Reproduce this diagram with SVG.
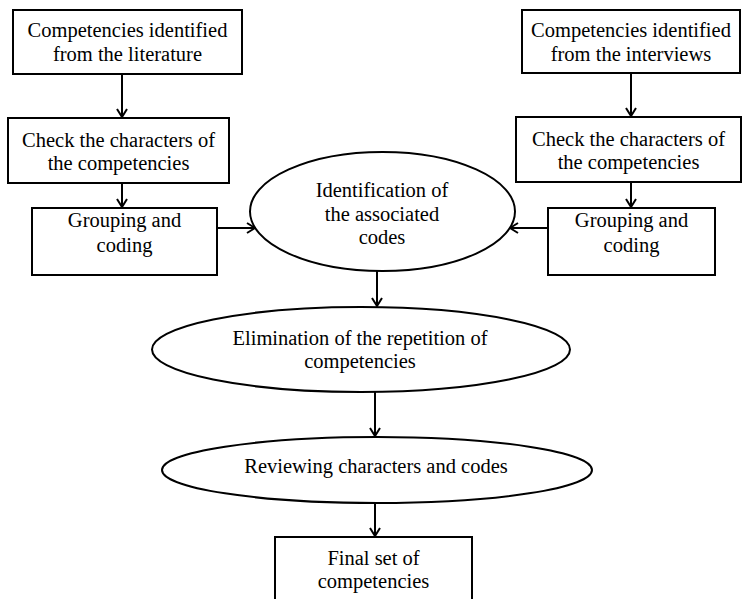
<svg xmlns="http://www.w3.org/2000/svg" width="743" height="599" viewBox="0 0 743 599">
<defs>
<marker id="a" viewBox="0 0 10 12" refX="9" refY="6" markerWidth="10" markerHeight="12" markerUnits="userSpaceOnUse" orient="auto">
<path d="M1,1 L9,6 L1,11" fill="none" stroke="#000" stroke-width="2"/>
</marker>
</defs>
<rect width="743" height="599" fill="#fff"/>
<g font-family="Liberation Serif" font-size="20.5" text-anchor="middle">
<g id="lit">
<rect fill="#fff" stroke="#000" stroke-width="2" x="13" y="10" width="229" height="64"/>
<text x="127.5" y="37">Competencies identified</text>
<text x="127.5" y="61">from the literature</text>
</g>
<g id="check-left">
<rect fill="#fff" stroke="#000" stroke-width="2" x="8" y="118" width="221" height="65"/>
<text x="118.5" y="147">Check the characters of</text>
<text x="118.5" y="170">the competencies</text>
</g>
<g id="group-left">
<rect fill="#fff" stroke="#000" stroke-width="2" x="32" y="208" width="185" height="67"/>
<text x="124.5" y="227">Grouping and</text>
<text x="124.5" y="252">coding</text>
</g>
<g id="int">
<rect fill="#fff" stroke="#000" stroke-width="2" x="522" y="10" width="218" height="63"/>
<text x="631" y="37">Competencies identified</text>
<text x="631" y="61">from the interviews</text>
</g>
<g id="check-right">
<rect fill="#fff" stroke="#000" stroke-width="2" x="516" y="117" width="225" height="65"/>
<text x="628.5" y="146">Check the characters of</text>
<text x="628.5" y="169">the competencies</text>
</g>
<g id="group-right">
<rect fill="#fff" stroke="#000" stroke-width="2" x="548" y="208" width="167" height="67"/>
<text x="631.5" y="227">Grouping and</text>
<text x="631.5" y="252">coding</text>
</g>
<g id="ident">
<ellipse fill="#fff" stroke="#000" stroke-width="2" cx="382.5" cy="211.5" rx="132.5" ry="59.5"/>
<text x="382" y="197">Identification of</text>
<text x="382" y="221">the associated</text>
<text x="382" y="244">codes</text>
</g>
<g id="elim">
<ellipse fill="#fff" stroke="#000" stroke-width="2" cx="361" cy="349.5" rx="209" ry="42.5"/>
<text x="360" y="345">Elimination of the repetition of</text>
<text x="360" y="368">competencies</text>
</g>
<g id="review">
<ellipse fill="#fff" stroke="#000" stroke-width="2" cx="377" cy="470" rx="215" ry="33"/>
<text x="376" y="473">Reviewing characters and codes</text>
</g>
<g id="final">
<rect fill="#fff" stroke="#000" stroke-width="2" x="275" y="537" width="197" height="72"/>
<text x="373.5" y="565">Final set of</text>
<text x="373.5" y="588">competencies</text>
</g>
</g>
<g id="connectors" stroke="#000" stroke-width="2" fill="none" marker-end="url(#a)">
<line x1="122" y1="74" x2="122" y2="117"/>
<line x1="122" y1="183" x2="122" y2="207"/>
<line x1="217" y1="228" x2="255" y2="228"/>
<line x1="631" y1="73" x2="631" y2="116"/>
<line x1="631" y1="182" x2="631" y2="207"/>
<line x1="548" y1="228" x2="510" y2="228"/>
<line x1="377" y1="271" x2="377" y2="306"/>
<line x1="375" y1="392" x2="375" y2="436"/>
<line x1="375" y1="503" x2="375" y2="536"/>
</g>
</svg>
